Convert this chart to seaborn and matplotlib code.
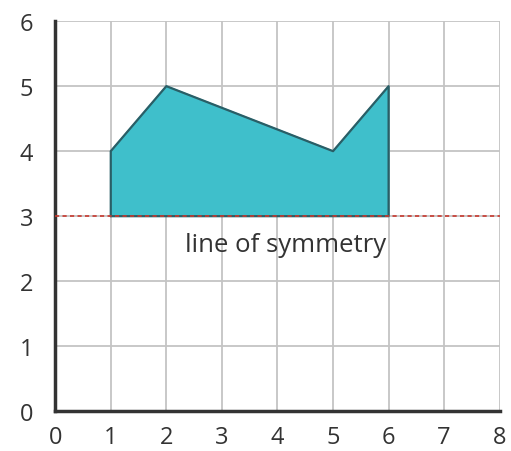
import pandas as pd
import matplotlib
matplotlib.use("Agg")
import matplotlib.pyplot as plt
import seaborn as sns

# 도형 꼭짓점
shape_x = [1, 1, 2, 5, 6, 6, 1]
shape_y = [3, 4, 5, 4, 5, 3, 3]

# 대칭선
sym_y = 3
sym_label = "line of symmetry"

x_ticks = [0, 1, 2, 3, 4, 5, 6, 7, 8]
y_ticks = [0, 1, 2, 3, 4, 5, 6]

sns.set_style("white")
plt.rcParams['font.family'] = ['Open Sans', 'DejaVu Sans']

fig = plt.figure(figsize=(5.11, 4.52), dpi=100)
ax = fig.add_axes([0.108, 0.088, 0.87, 0.863])

df = pd.DataFrame({'x': shape_x, 'y': shape_y})

# 도형 채우기 + 외곽선
ax.fill(df['x'], df['y'], color='#3fbfcb', zorder=2)
sns.lineplot(data=df, x='x', y='y', sort=False, estimator=None, color='#2a5e66',
             linewidth=1.6, ax=ax, zorder=3)

# 대칭선 (빨간 점선)
ax.axhline(sym_y, color='#c8382e', linestyle=(0, (2.5, 2)), linewidth=1.2, zorder=4)
ax.text(4.15, 2.57, sym_label, ha='center', va='center', fontsize=18.5, color='#333333', zorder=5)

# 축 꾸미기
ax.set_xlim(0, 8)
ax.set_ylim(0, 6)
ax.set_xticks(x_ticks)
ax.set_yticks(y_ticks)
ax.set_xticklabels([str(v) for v in x_ticks], fontsize=17, color='#333333')
ax.set_yticklabels([str(v) for v in y_ticks], fontsize=17, color='#333333')
ax.tick_params(axis='x', length=0, pad=10)
ax.tick_params(axis='y', length=0, pad=16)
ax.grid(True, color='#c4c4c4', linewidth=1.3, zorder=0)
ax.set_axisbelow(True)
ax.set_xlabel('')
ax.set_ylabel('')
for side in ['top', 'right']:
    ax.spines[side].set_visible(False)
for side in ['left', 'bottom']:
    ax.spines[side].set_color('#333333')
    ax.spines[side].set_linewidth(2.5)

fig.savefig('out.png', dpi=100)
